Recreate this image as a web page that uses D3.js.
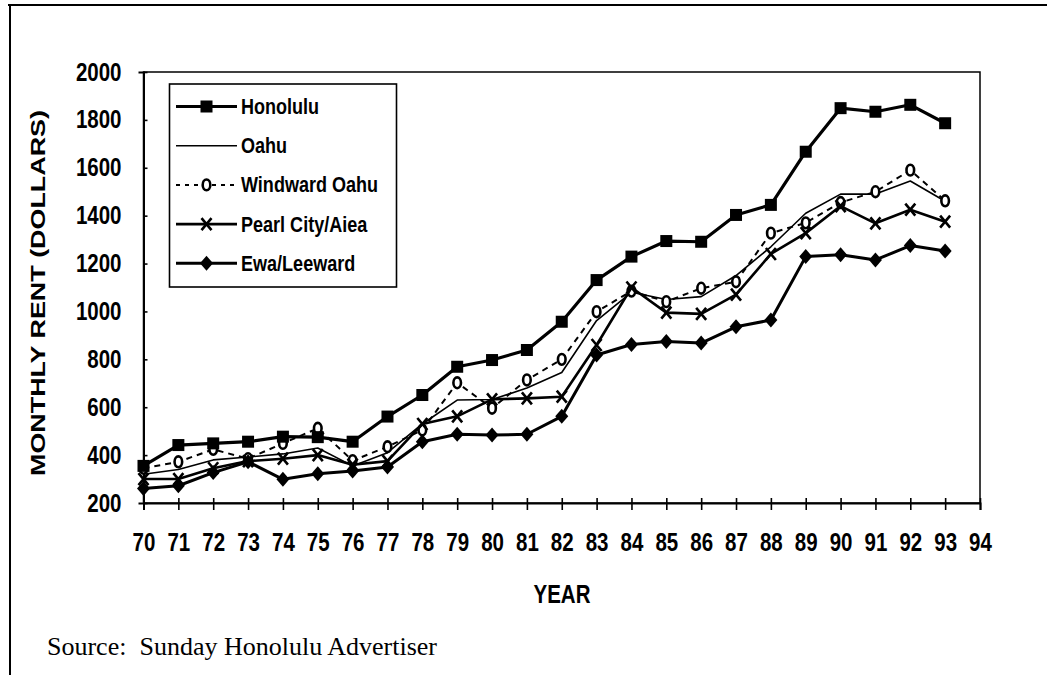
<!DOCTYPE html>
<html>
<head>
<meta charset="utf-8">
<script src="https://cdn.jsdelivr.net/npm/d3@7"></script>
<style>
  html, body { margin: 0; padding: 0; background: #fff; }
  svg { display: block; }
  .narrow { font-family: "Liberation Sans", Arial, sans-serif; font-weight: bold; }
</style>
</head>
<body>
<svg id="chart" width="1047" height="675"></svg>
<script>
// years 1970..1993
const years = d3.range(70, 94);
const xTicks = d3.range(70, 95);
const yTicks = [200, 400, 600, 800, 1000, 1200, 1400, 1600, 1800, 2000];

const honolulu = [355, 442, 449, 456, 477, 475, 456, 561, 651, 769, 797, 839, 957, 1131, 1229, 1294, 1291, 1403, 1445, 1667, 1849, 1834, 1863, 1786];
const oahu     = [320, 340, 380, 392, 405, 430, 355, 410, 530, 630, 632, 680, 745, 962, 1080, 1050, 1062, 1150, 1270, 1410, 1490, 1490, 1545, 1460];
const windward = [345, 372, 424, 385, 449, 512, 377, 435, 505, 702, 596, 714, 800, 999, 1085, 1041, 1097, 1124, 1327, 1370, 1455, 1500, 1590, 1462];
const pearl    = [300, 300, 345, 375, 385, 400, 360, 375, 530, 562, 633, 637, 644, 860, 1100, 995, 990, 1070, 1240, 1327, 1440, 1368, 1425, 1375];
const ewa      = [261, 272, 327, 372, 299, 322, 334, 350, 456, 487, 484, 487, 562, 818, 862, 874, 868, 936, 964, 1229, 1237, 1215, 1275, 1252];

const seriesNames = ["Honolulu", "Oahu", "Windward Oahu", "Pearl City/Aiea", "Ewa/Leeward"];
const seriesValues = [honolulu, oahu, windward, pearl, ewa];
const seriesStyle = [
  { width: 3.2, dash: null, marker: "square" },
  { width: 1.6, dash: null, marker: null },
  { width: 2, dash: "6,5", marker: "open" },
  { width: 2.6, dash: null, marker: "x" },
  { width: 3, dash: null, marker: "diamond" }
];

// no condensed font installed: squeeze bold sans horizontally
const SQUEEZE = 0.82;
function narrow(sel) {
  sel.each(function () {
    const t = d3.select(this);
    const x0 = +t.attr("x") || 0;
    t.attr("x", x0 / SQUEEZE).attr("transform", `scale(${SQUEEZE},1)`);
  });
}

const svg = d3.select("#chart");

// page frame (scan edges)
svg.append("line").attr("x1", 8).attr("x2", 1047).attr("y1", 5).attr("y2", 5)
  .attr("stroke", "#000").attr("stroke-width", 2);
svg.append("line").attr("x1", 10).attr("x2", 10).attr("y1", 5).attr("y2", 675)
  .attr("stroke", "#000").attr("stroke-width", 2);

const plotL = 143.5, plotR = 980, plotT = 72, plotB = 503;
const x = d3.scaleLinear().domain([70, 94]).range([plotL, plotR]);
const y = d3.scaleLinear().domain([200, 2000]).range([plotB, plotT]);

// plot frame
svg.append("rect").attr("x", plotL).attr("y", plotT)
  .attr("width", plotR - plotL).attr("height", plotB - plotT)
  .attr("fill", "none").attr("stroke", "#000").attr("stroke-width", 1.5);

// x axis
const xAxis = svg.append("g")
  .attr("transform", `translate(0,${plotB})`)
  .call(d3.axisBottom(x).tickValues(xTicks).tickSize(7).tickPadding(23).tickFormat(d3.format("d")));
xAxis.select(".domain").attr("stroke-width", 2);
xAxis.selectAll(".tick line").attr("y1", -5).attr("stroke-width", 1.6);
xAxis.selectAll("text").attr("class", "narrow").attr("font-size", 25).attr("fill", "#000").call(narrow);

// y axis
const yAxis = svg.append("g")
  .attr("transform", `translate(${plotL},0)`)
  .call(d3.axisLeft(y).tickValues(yTicks).tickSize(5).tickPadding(17).tickFormat(d3.format("d")));
yAxis.select(".domain").attr("stroke-width", 2);
yAxis.selectAll(".tick line").attr("x2", 4).attr("stroke-width", 1.6);
yAxis.selectAll("text").attr("class", "narrow").attr("font-size", 25).attr("fill", "#000").call(narrow);

// axis titles
svg.append("g").attr("transform", "translate(562,603)")
  .append("text").attr("class", "narrow")
  .attr("text-anchor", "middle")
  .attr("font-size", 25).text("YEAR").call(narrow);

svg.append("text")
  .attr("transform", "translate(45,293) rotate(-90)")
  .attr("text-anchor", "middle")
  .attr("font-family", "Liberation Sans, Arial, sans-serif")
  .attr("font-weight", "bold").attr("font-size", 20)
  .attr("textLength", 366).attr("lengthAdjust", "spacingAndGlyphs")
  .text("MONTHLY RENT (DOLLARS)");

// source
svg.append("text")
  .attr("x", 47).attr("y", 655)
  .attr("font-family", "Liberation Serif, Times New Roman, serif")
  .attr("font-size", 26)
  .attr("xml:space", "preserve")
  .text("Source:  Sunday Honolulu Advertiser");

function drawMarker(g, type, cx, cy) {
  if (type === "square") {
    g.append("rect").attr("x", cx - 6).attr("y", cy - 6).attr("width", 12).attr("height", 12).attr("fill", "#000");
  } else if (type === "diamond") {
    g.append("path").attr("d", `M${cx},${cy - 7.5}L${cx + 6.5},${cy}L${cx},${cy + 7.5}L${cx - 6.5},${cy}Z`).attr("fill", "#000");
  } else if (type === "x") {
    g.append("path").attr("d", `M${cx - 5},${cy - 6}L${cx + 5},${cy + 6}M${cx + 5},${cy - 6}L${cx - 5},${cy + 6}`)
      .attr("stroke", "#000").attr("stroke-width", 2.6).attr("fill", "none");
  } else if (type === "open") {
    g.append("ellipse").attr("cx", cx).attr("cy", cy).attr("rx", 3.8).attr("ry", 5.4)
      .attr("fill", "#fff").attr("stroke", "#000").attr("stroke-width", 2.6);
  }
}

const line = d3.line().x((d, i) => x(years[i])).y(d => y(d));

// draw series, back to front
const order = [1, 2, 3, 4, 0];
order.forEach(si => {
  const st = seriesStyle[si];
  const g = svg.append("g");
  g.append("path").datum(seriesValues[si]).attr("d", line)
    .attr("fill", "none").attr("stroke", "#000").attr("stroke-width", st.width)
    .attr("stroke-dasharray", st.dash).attr("stroke-linejoin", "round");
  if (st.marker) seriesValues[si].forEach((v, i) => drawMarker(g, st.marker, x(years[i]), y(v)));
});

// legend
const legend = svg.append("g");
legend.append("rect").attr("x", 169.5).attr("y", 84).attr("width", 227).attr("height", 203)
  .attr("fill", "#fff").attr("stroke", "#000").attr("stroke-width", 1.6);
seriesNames.forEach((name, i) => {
  const st = seriesStyle[i];
  const ly = 106.5 + i * 39.2;
  const lg = legend.append("g");
  lg.append("line").attr("x1", 176).attr("x2", 237).attr("y1", ly).attr("y2", ly)
    .attr("stroke", "#000").attr("stroke-width", st.width).attr("stroke-dasharray", st.dash ? "4,5" : null);
  if (st.marker) drawMarker(lg, st.marker, 206.5, ly);
  lg.append("g").attr("transform", `translate(241,${ly + 7.5})`)
    .append("text").attr("class", "narrow")
    .attr("font-size", 22).text(name).call(narrow);
});
</script>
</body>
</html>
